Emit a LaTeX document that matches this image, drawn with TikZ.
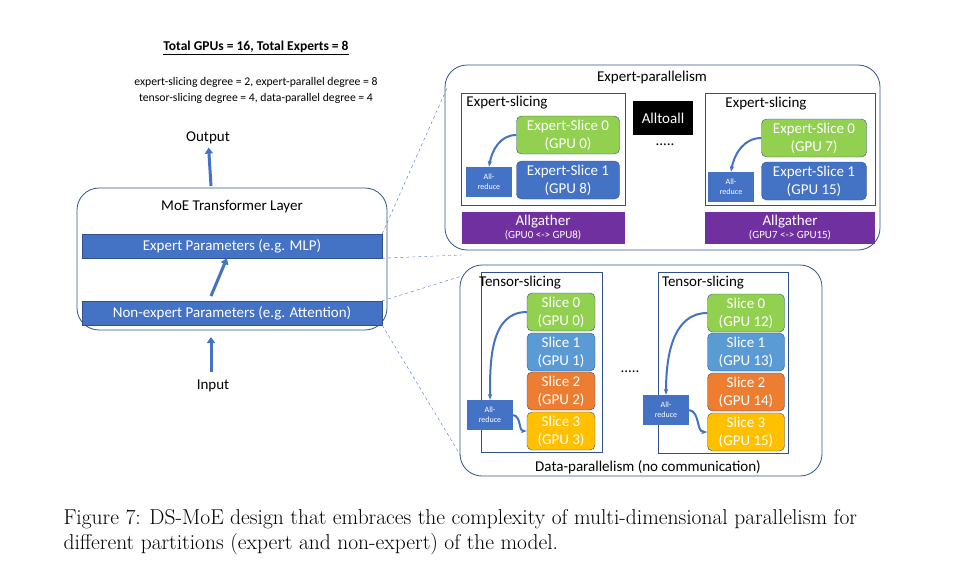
\documentclass[tikz,border=0pt]{standalone}
\usepackage{fontspec}
\setmainfont{Latin Modern Roman}
\newfontfamily\calib{Carlito}
\usetikzlibrary{arrows.meta}
\definecolor{msblue}{HTML}{4472C4}
\definecolor{msline}{HTML}{2F528F}
\definecolor{slgreen}{HTML}{92D050}
\definecolor{slblue}{HTML}{5B9BD5}
\definecolor{slorange}{HTML}{ED7D31}
\definecolor{slyellow}{HTML}{FFC000}
\definecolor{gpurple}{HTML}{7030A0}
\begin{document}
\begin{tikzpicture}[x=1pt,y=-1pt,
        font=\calib\fontsize{15}{16}\selectfont,
        frame/.style={draw=msline, rounded corners=22pt, thick},
        panel/.style={draw=msline, thick},
        bar/.style={fill=msblue, draw=msline, text=white, minimum width=300pt, minimum height=24pt},
        slice/.style={draw=msline, rounded corners=5pt, text=white, align=center, minimum width=#1, minimum height=38pt, inner sep=1pt, font=\calib\fontsize{15}{18}\selectfont},
        allred/.style={fill=msblue, text=white, align=center, minimum width=46pt, minimum height=30pt, font=\calib\fontsize{8}{10}\selectfont},
        gather/.style={fill=gpurple, text=white, align=center, minimum width=#1, minimum height=32pt, inner sep=1pt},
        uparrow/.style={-{Triangle[width=8pt,length=6pt]}, line width=3pt, msblue},
        ring/.style={-{Stealth[length=6pt]}, line width=2pt, msblue},
        zoomline/.style={dashed, msblue, thin},
        ]
        \useasboundingbox (0,0) rectangle (960,573);

        % left side
        \node (title) at (256,48) [font=\calib\bfseries\fontsize{13.5}{15}\selectfont] {\underline{Total GPUs = 16, Total Experts = 8}};
        \node (degrees) at (256,90) [align=center, font=\calib\fontsize{11.7}{16}\selectfont] {expert-slicing degree = 2, expert-parallel degree = 8\\tensor-slicing degree = 4, data-parallel degree = 4};
        \node (output) at (208,138) {Output};
        \node (input) at (213,386) {Input};
        \draw[frame] (77,188) rectangle (387,330);
        \node (moe) at (232,207) {MoE Transformer Layer};
        \node (expert) at (232,246) [bar] {Expert Parameters (e.g. MLP)};
        \node (nonexpert) at (232,313) [bar] {Non-expert Parameters (e.g. Attention)};
        \coordinate (moetop) at (211,186);
        \coordinate (moebot) at (211,372);
        \coordinate (midlow) at (211,296);
        \draw[uparrow] (moetop) -- (output);
        \draw[uparrow] (midlow) -- (expert);
        \draw[uparrow] (moebot) -- (211,337);

        % expert-parallelism
        \draw[frame] (445,65) rectangle (880,250);
        \node (ep) at (652,77) {Expert-parallelism};
        \draw[panel] (461,93) rectangle (625,205);
        \node (esA) at (507,103) {Expert-slicing};
        \node (esA0) at (568,135) [slice=103pt, fill=slgreen] {Expert-Slice 0\\(GPU 0)};
        \node (esA1) at (568,180) [slice=103pt, fill=msblue] {Expert-Slice 1\\(GPU 8)};
        \node (arA) at (489,182) [allred] {All-\\reduce};
        \draw[ring] (esA0.west) to[out=180, in=80] (arA.north);
        \node (a2a) at (663,118) [fill=black, text=white, minimum width=60pt, minimum height=34pt] {Alltoall};
        \node (dotsA) at (665,145) {.....};
        \draw[panel] (705,93) rectangle (875,205);
        \node (esB) at (766,104) {Expert-slicing};
        \node (esB0) at (814,138) [slice=105pt, fill=slgreen] {Expert-Slice 0\\(GPU 7)};
        \node (esB1) at (814,181) [slice=105pt, fill=msblue] {Expert-Slice 1\\(GPU 15)};
        \node (arB) at (731,187) [allred] {All-\\reduce};
        \draw[ring] (esB0.west) to[out=180, in=80] (arB.north);
        \node (agA) at (543,228) [gather=163pt] {Allgather\\[-3pt]{\fontsize{11}{12}\selectfont(GPU0 <-> GPU8)}};
        \node (agB) at (790,228) [gather=170pt] {Allgather\\[-3pt]{\fontsize{11}{12}\selectfont(GPU7 <-> GPU15)}};

        % data-parallelism
        \draw[frame] (460,265) rectangle (822,476);
        \node (dp) at (648,467) {Data-parallelism (no communication)};
        \draw[panel] (481,272) rectangle (602,452);
        \node (tsA) at (520,283) {Tensor-slicing};
        \node (sA0) at (561,312) [slice=68pt, fill=slgreen] {Slice 0\\(GPU 0)};
        \node (sA1) at (561,352) [slice=68pt, fill=slblue] {Slice 1\\(GPU 1)};
        \node (sA2) at (561,391) [slice=68pt, fill=slorange] {Slice 2\\(GPU 2)};
        \node (sA3) at (561,431) [slice=68pt, fill=slyellow] {Slice 3\\(GPU 3)};
        \node (arC) at (490,415) [allred] {All-\\reduce};
        \draw[ring] (sA0.west) to[out=180, in=90] (arC.north);
        \draw[ring] (arC.east) to[out=-10, in=180] (sA3.west);
        \node (dotsB) at (630,372) {.....};
        \draw[panel] (658,272) rectangle (788,453);
        \node (tsB) at (703,283) {Tensor-slicing};
        \node (sB0) at (746,313) [slice=77pt, fill=slgreen] {Slice 0\\(GPU 12)};
        \node (sB1) at (746,352) [slice=77pt, fill=slblue] {Slice 1\\(GPU 13)};
        \node (sB2) at (746,392) [slice=77pt, fill=slorange] {Slice 2\\(GPU 14)};
        \node (sB3) at (746,432) [slice=77pt, fill=slyellow] {Slice 3\\(GPU 15)};
        \node (arD) at (666,410) [allred] {All-\\reduce};
        \draw[ring] (sB0.west) to[out=180, in=90] (arD.north);
        \draw[ring] (arD.east) to[out=-10, in=180] (sB3.west);

        % zoom lines
        \draw[zoomline] (expert.north east) -- (447,88);
        \draw[zoomline] (expert.south east) -- (462,255);
        \draw[zoomline] (nonexpert.north east) -- (462,276);
        \draw[zoomline] (nonexpert.south east) -- (462,458);

        % caption
        \node (caption) at (60,532) [anchor=west, align=left, font=\rmfamily\fontsize{21.5}{25}\selectfont] {Figure 7: DS-MoE design that embraces the complexity of multi-dimensional parallelism for\\different partitions (expert and non-expert) of the model.};
    \end{tikzpicture}
\end{document}
